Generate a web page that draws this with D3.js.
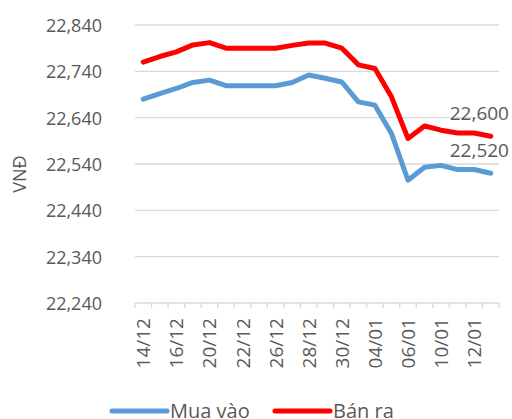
<!DOCTYPE html>
<html>
<head>
<meta charset="utf-8">
<script src="https://cdn.jsdelivr.net/npm/d3@7"></script>
<style>
  body { margin: 0; background: #fff; }
  svg text { font-family: "Open Sans", sans-serif; fill: #595959; }
</style>
</head>
<body>
<svg id="chart" width="512" height="419"></svg>
<script>
// Dates (only every other one is labelled on the axis)
const dates = ["14/12", "15/12", "16/12", "17/12", "20/12", "21/12", "22/12", "23/12",
  "26/12", "27/12", "28/12", "29/12", "30/12", "31/12", "04/01", "05/01",
  "06/01", "07/01", "10/01", "11/01", "12/01", "13/01"];
const muaVao = [22680, 22692, 22703, 22716, 22721, 22709, 22709, 22709, 22709, 22716, 22732,
  22725, 22717, 22674, 22667, 22606, 22505, 22533, 22537, 22528, 22528, 22520];
const banRa = [22760, 22772, 22782, 22797, 22802, 22790, 22790, 22790, 22790, 22796, 22801,
  22801, 22790, 22754, 22746, 22685, 22595, 22622, 22613, 22607, 22607, 22600];
const yTicks = [22240, 22340, 22440, 22540, 22640, 22740, 22840];

const svg = d3.select("#chart");
const plotL = 135, plotR = 499, plotT = 25, plotB = 303;

const x = d3.scaleBand().domain(dates).range([plotL, plotR]);
const y = d3.scaleLinear().domain([22240, 22840]).range([plotB, plotT]);
const fmt = d3.format(",");

// gridlines
svg.append("g").selectAll("line").data(yTicks.filter(v => v !== 22240)).join("line")
  .attr("x1", plotL).attr("x2", plotR)
  .attr("y1", d => y(d)).attr("y2", d => y(d))
  .attr("stroke", "#d9d9d9").attr("stroke-width", 1.3);

// y tick labels
svg.append("g").selectAll("text").data(yTicks).join("text")
  .attr("x", 102).attr("y", d => y(d))
  .attr("text-anchor", "end").attr("dominant-baseline", "central")
  .style("font-size", "18px")
  .text(d => fmt(d));

svg.append("text")
  .attr("transform", "translate(19,174) rotate(-90)")
  .attr("text-anchor", "middle").attr("dominant-baseline", "central")
  .style("font-size", "18px")
  .text("VNĐ");

// x axis
const xAxis = svg.append("g");
xAxis.append("line").attr("x1", plotL).attr("x2", plotR).attr("y1", plotB).attr("y2", plotB)
  .attr("stroke", "#d9d9d9").attr("stroke-width", 1.3);
const bounds = dates.map(d => x(d)).concat([plotR]);
xAxis.selectAll("line.tick").data(bounds).join("line").attr("class", "tick")
  .attr("x1", d => d).attr("x2", d => d).attr("y1", plotB).attr("y2", plotB + 5)
  .attr("stroke", "#d9d9d9").attr("stroke-width", 1.3);
xAxis.selectAll("text").data(dates.filter((d, i) => i % 2 === 0)).join("text")
  .attr("transform", d => `translate(${x(d) + x.bandwidth() / 2},318) rotate(-90)`)
  .attr("text-anchor", "end").attr("dominant-baseline", "central")
  .style("font-size", "19px")
  .text(d => d);

// lines
const line = d3.line().x((d, i) => x(dates[i]) + x.bandwidth() / 2).y(d => y(d));
const series = [
  { name: "Mua vào", values: muaVao, color: "#5b9bd5" },
  { name: "Bán ra", values: banRa, color: "#ff0000" }
];
svg.append("g").selectAll("path").data(series).join("path")
  .attr("d", s => line(s.values))
  .attr("fill", "none").attr("stroke", s => s.color).attr("stroke-width", 5)
  .attr("stroke-linejoin", "round").attr("stroke-linecap", "round");

// end labels
svg.append("text").attr("x", 509).attr("y", y(banRa[banRa.length - 1]) - 16)
  .attr("text-anchor", "end").style("font-size", "19px")
  .text(fmt(banRa[banRa.length - 1]));
svg.append("text").attr("x", 509).attr("y", y(muaVao[muaVao.length - 1]) - 16)
  .attr("text-anchor", "end").style("font-size", "19px")
  .text(fmt(muaVao[muaVao.length - 1]));

// legend
const legendX = [112, 275];
const lg = svg.append("g").selectAll("g").data(series).join("g")
  .attr("transform", (s, i) => `translate(${legendX[i]},411)`);
lg.append("line").attr("x1", 0).attr("x2", 55).attr("y1", 0).attr("y2", 0)
  .attr("stroke", s => s.color).attr("stroke-width", 5).attr("stroke-linecap", "round");
lg.append("text").attr("x", 58).attr("y", 7).style("font-size", "20px").text(s => s.name);
</script>
</body>
</html>
